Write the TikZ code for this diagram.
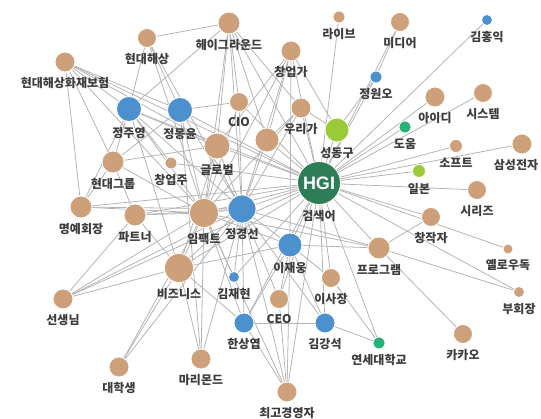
\documentclass[tikz,border=0pt]{standalone}
\usepackage{fontspec}
\newfontfamily\kr{Noto Sans CJK KR}
\newfontfamily\lat{Liberation Sans}
\usetikzlibrary{backgrounds}
\definecolor{kwtan}{RGB}{205,160,122}
\definecolor{perblue}{RGB}{76,144,206}
\definecolor{hubgreen}{RGB}{46,125,88}
\definecolor{lightgreen}{RGB}{154,202,56}
\definecolor{midgreen}{RGB}{38,178,120}
\definecolor{edgegray}{RGB}{180,180,180}
\definecolor{txtgray}{RGB}{60,60,60}
\tikzset{
  dot/.style={circle, draw=white, line width=0.8pt, inner sep=0pt, minimum size=#1},
  kw/.style={dot=#1, fill=kwtan},
  per/.style={dot=#1, fill=perblue},
  plc/.style={dot=#1, fill=lightgreen},
  org/.style={dot=#1, fill=midgreen},
}
\begin{document}
\begin{tikzpicture}[x=1pt, y=-1pt,
  every edge/.style={draw=edgegray, line width=0.8pt},
  every label/.style={font=\kr\bfseries\fontsize{12}{14}\selectfont, text=txtgray, inner sep=0pt},
  label distance=5pt]
\useasboundingbox (0,0) rectangle (541,419);

\node[dot=43pt, fill=hubgreen, text=white, font=\lat\bfseries\fontsize{18}{18}\selectfont, label=below:검색어] (hgi) at (319,183) {HGI};
\node[plc=24pt, label=below:성동구] (sdg) at (337,130) {};
\node[plc=13pt, label=below:일본] (ilbon) at (419,171) {};
\node[org=12pt, label=below:도움] (doum) at (405,127) {};
\node[org=12pt, label=below:연세대학교] (yonsei) at (379,343) {};
\node[per=12pt, label=below:정원오] (jwo) at (376,77) {};
\node[per=11pt, label=below:김홍익] (khi) at (487,20) {};
\node[kw=12pt, label=below:라이브] (live) at (339,17) {};
\node[kw=19pt, label=below:미디어] (media) at (400,22) {};
\node[kw=20pt, label=below:창업가] (founder) at (291,51) {};
\node[kw=20pt, label=below:우리가] (woori) at (301,108) {};
\node[kw=20pt, label=below:아이디] (idea) at (435,97) {};
\node[kw=19pt, label=below:시스템] (system) at (483,93) {};
\node[kw=13pt, label=below:소프트] (soft) at (456,146) {};
\node[kw=20pt, label={[xshift=-6pt]below:삼성전자}] (samsung) at (522,144) {};
\node[kw=19pt, label=below:시리즈] (series) at (477,190) {};
\node[kw=19pt, label=below:창작자] (creator) at (431,217) {};
\node[kw=10pt, label=below:옐로우독] (yellow) at (508,249) {};
\node[kw=11pt, label=below:부회장] (vicechair) at (519,292) {};
\node[kw=22pt, label=below:프로그램] (program) at (379,248) {};
\node[kw=19pt, label=below:카카오] (kakao) at (463,334) {};
\node[kw=19pt, label=below:이사장] (chair) at (331,278) {};
\node[per=20pt, label=below:김강석] (kks) at (325,323) {};
\node[kw=20pt, label=below:최고경영자] (topceo) at (287,392) {};
\node[kw=19pt, label=below:CEO] (ceo) at (279,299) {};
\node[per=24pt, label=below:이재웅] (jwu) at (290,245) {};
\node[per=20pt, label=below:한상엽] (hsy) at (244,323) {};
\node[per=11pt, label=below:김재현] (kjh) at (234,277) {};
\node[kw=20pt, label=below:마리몬드] (marymond) at (201,359) {};
\node[kw=20pt, label=below:대학생] (student) at (119,367) {};
\node[kw=20pt, label=below:선생님] (teacher) at (63,299) {};
\node[kw=29pt, label=below:비즈니스] (business) at (179,268) {};
\node[per=28pt, label=below:정경선] (jks) at (242,209) {};
\node[kw=29pt, label=below:임팩트] (impact) at (204,213) {};
\node[kw=22pt, label=below:파트너] (partner) at (135,215) {};
\node[kw=22pt, label=below:명예회장] (honor) at (81,207) {};
\node[kw=22pt, label=below:현대그룹] (hgroup) at (113,162) {};
\node[kw=12pt, label=below:창업주] (founderh) at (171,163) {};
\node[kw=26pt, label=below:글로벌] (global) at (217,146) {};
\node[kw=24pt] (x1) at (267,140) {};
\node[kw=19pt, label=below:CIO] (cio) at (239,102) {};
\node[per=25pt, label=below:정몽윤] (jmy) at (180,110) {};
\node[per=25pt, label=below:정주영] (jjy) at (129,109) {};
\node[kw=19pt, label=below:현대해상] (hmarine) at (147,38) {};
\node[kw=22pt, label=below:헤이그라운드] (heyground) at (229,23) {};
\node[kw=20pt, label=below:현대해상화재보험] (hmfi) at (65,62) {};

% links, kept behind the circles
\begin{scope}[on background layer]
\path (hgi) edge (sdg) edge (jwo) edge (media) edge (khi) edge (idea) edge (system)
  edge (doum) edge (soft) edge (samsung) edge (ilbon) edge (series) edge (creator)
  edge (yellow) edge (vicechair) edge (program) edge (yonsei) edge (chair) edge (kks)
  edge (topceo) edge (ceo) edge (jwu) edge (hsy) edge (kjh) edge (business) edge (jks)
  edge (impact) edge (partner) edge (honor) edge (global) edge (founderh) edge (x1)
  edge (woori) edge (founder) edge (live) edge (heyground) edge (cio) edge (jmy)
  edge (hmfi) edge (teacher) edge (jjy);
\path (jwo) edge (sdg) edge (media);
\path (sdg) edge (woori) edge (founder);
\path (hmfi) edge (honor) edge (jjy) edge (jmy) edge (hgroup) edge (global) edge (impact);
\path (heyground) edge (hmarine) edge (jjy) edge (cio) edge (global) edge (impact)
  edge (jks) edge (x1) edge (woori);
\path (hmarine) edge (jjy) edge (jmy) edge (jks) edge (impact);
\path (jjy) edge (hgroup) edge (honor) edge (founderh) edge (impact) edge (business)
  edge (jks) edge (global);
\path (jmy) edge (hgroup) edge (cio) edge (impact) edge (jks) edge (marymond);
\path (hgroup) edge (honor) edge (partner) edge (global) edge (impact);
\path (honor) edge (impact) edge (jks);
\path (partner) edge (teacher) edge (impact) edge (jks) edge (business);
\path (teacher) edge (business) edge (impact) edge (jks);
\path (business) edge (impact) edge (jks) edge (jwu) edge (hsy) edge (marymond)
  edge (student) edge (global);
\path (student) edge (impact) edge (jks);
\path (marymond) edge (impact) edge (jks);
\path (impact) edge (jks) edge (global) edge (kjh) edge (jwu) edge (topceo) edge (cio)
  edge (founder) edge (woori) edge (program);
\path (jks) edge (global) edge (cio) edge (founder) edge (woori) edge (jwu) edge (kjh)
  edge (hsy) edge (ceo) edge (topceo) edge (kks) edge (program) edge (x1);
\path (hsy) edge (jwu) edge (kks) edge (topceo) edge (impact);
\path (jwu) edge (ceo) edge (chair) edge (kks) edge (topceo) edge (program) edge (founder);
\path (topceo) edge (ceo);
\path (yonsei) edge (kks) edge (chair);
\path (program) edge (creator) edge (vicechair) edge (kakao);
\path (founder) edge (global) edge (x1);
\path (woori) edge (x1);
\end{scope}
\end{tikzpicture}
\end{document}
